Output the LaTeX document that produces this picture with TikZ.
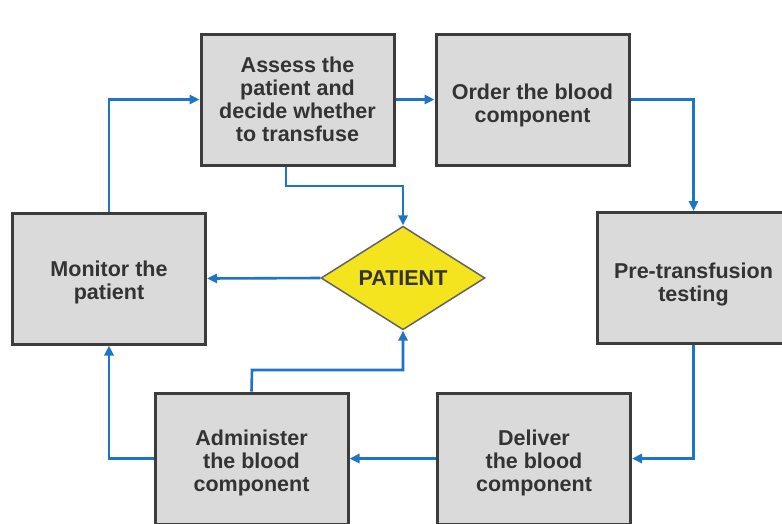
\documentclass[tikz,border=0pt]{standalone}
\usepackage{fontspec}
\setmainfont{Liberation Sans}
\usetikzlibrary{shapes.geometric,arrows.meta}
\definecolor{flowblue}{HTML}{1E74C6}
\definecolor{boxfill}{HTML}{DADADB}
\definecolor{boxline}{HTML}{3C3C3C}
\definecolor{txt}{HTML}{333333}
\definecolor{patyellow}{HTML}{F4E41E}
\tikzset{
  stepbox/.style={draw=boxline, line width=3pt, fill=boxfill, minimum width=193pt, minimum height=131pt, inner sep=0pt},
  steptext/.style={align=center, text=txt, font=\fontsize{21.5}{23}\selectfont\bfseries, inner sep=0pt},
  patnode/.style={shape=diamond, draw=boxline!80, line width=1.5pt, fill=patyellow, minimum width=164pt,
    minimum height=98pt, inner sep=0pt, text=txt, font=\fontsize{21.5}{23}\selectfont\bfseries},
  flow/.style={draw=flowblue, line width=2.6pt, -{Triangle[length=10pt,width=9pt]}},
}
\begin{document}
\begin{tikzpicture}[x=1pt,y=-1pt]
\useasboundingbox (0,0) rectangle (782,523);
\clip (0,0) rectangle (782,523);
\fill[white] (0,0) rectangle (782,523);
\node[stepbox, label={[steptext]center:Assess the\\patient and\\decide whether\\to transfuse}] (assess) at (297.5,99.5) {};
\node[stepbox, label={[steptext,yshift=-6pt]center:Order the blood\\component}] (order) at (532.5,99.5) {};
\node[stepbox, label={[steptext,yshift=-4pt]center:Monitor the\\patient}] (monitor) at (109,278.5) {};
\node[stepbox, label={[steptext,yshift=-6pt]center:Pre-transfusion\\testing}] (pre) at (693.5,278) {};
\node[stepbox, label={[steptext,yshift=-4.5pt]center:Administer\\the blood\\component}] (admin) at (251.5,458.5) {};
\node[stepbox, label={[steptext,yshift=-4.5pt]center:Deliver\\the blood\\component}] (deliver) at (534,458.5) {};
\node[patnode] (pat) at (403,278) {PATIENT};
\coordinate (a1) at (286,186);
\coordinate (a2) at (252,370);
\draw[flow] (monitor.north) |- (assess.west);
\draw[flow] (assess.east) -- (order.west);
\draw[flow] (order.east) -| (pre.north);
\draw[flow] (pre.south) |- (deliver.east);
\draw[flow] (deliver.west) -- (admin.east);
\draw[flow] (admin.west) -| (monitor.south);
\draw[flow] (assess.south -| a1) -- (a1) -| (pat.north);
\draw[flow] (admin.north) -- (a2) -| (pat.south);
\draw[flow] (pat.west) -- (monitor.east);
\end{tikzpicture}
\end{document}
